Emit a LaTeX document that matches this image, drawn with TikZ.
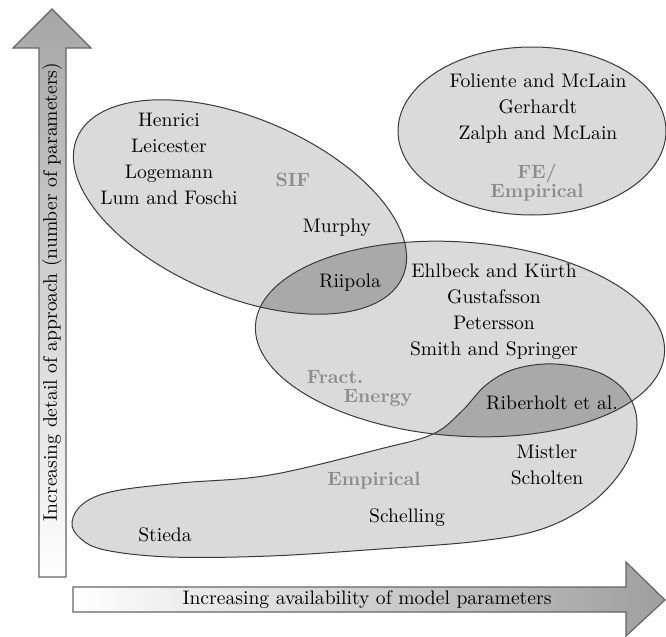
\documentclass[tikz,border=0pt]{standalone}
\usepackage{fontspec}
\usetikzlibrary{positioning}

\definecolor{setgray}{HTML}{DADADA}
\definecolor{overlapgray}{HTML}{A9A9A9}
\definecolor{edgegray}{HTML}{3A3A3A}
\definecolor{methodgray}{HTML}{8C8C8C}

% the four groups of approaches
\newcommand{\sifset}{(240,207) ellipse [x radius=177, y radius=89]}
\newcommand{\feset}{(532,131) ellipse [x radius=134, y radius=84]}
\newcommand{\fractset}{(460,339) ellipse [x radius=205, y radius=97]}
\newcommand{\empset}{plot [smooth cycle, tension=0.6] coordinates {
  (72,522) (84,503) (115,491) (180,483) (270,475) (380,449) (433,434) (462,411)
  (486,385) (515,369) (555,364) (600,373) (628,395) (637,425) (627,462)
  (595,500) (545,528) (480,541) (380,549) (270,556) (170,557) (105,550) (80,538)}}

\tikzset{
  sifturn/.style={rotate around={-23:(240,207)}},
  fractturn/.style={rotate around={-4:(460,339)}},
  setedge/.style={draw=edgegray, line width=0.5pt},
  arrowedge/.style={draw=black!60, line width=0.6pt},
  namestext/.style={font=\fontsize{9.8}{13}\selectfont, align=center, inner sep=0pt},
  methodtext/.style={font=\fontsize{9.6}{9.5}\selectfont\bfseries, text=methodgray, align=center, inner sep=0pt},
  axistext/.style={font=\fontsize{9.8}{13}\selectfont, inner sep=0pt}
}

\begin{document}
\begin{tikzpicture}[x=0.5pt, y=-0.5pt]
  \useasboundingbox (0,0) rectangle (666,637);

  % fill the groups
  \fill[setgray, sifturn] \sifset;
  \fill[setgray] \feset;
  \fill[setgray, fractturn] \fractset;
  \fill[setgray] \empset;

  % darker overlaps
  \begin{scope}
    \clip[fractturn] \fractset;
    \fill[overlapgray, sifturn] \sifset;
    \fill[overlapgray] \empset;
  \end{scope}

  % outlines
  \draw[setedge, sifturn] \sifset;
  \draw[setedge] \feset;
  \draw[setedge, fractturn] \fractset;
  \draw[setedge] \empset;

  % axis arrows
  \shade[arrowedge, top color=black!35, bottom color=white]
    (39,577) -- (39,48) -- (13,48) -- (52,9) -- (91,48) -- (66,48) -- (66,577) -- cycle;
  \shade[arrowedge, left color=white, right color=black!38]
    (73,587) -- (626,587) -- (626,562) -- (665,600) -- (626,636) -- (626,612) -- (73,612) -- cycle;

  % axis labels
  \node[axistext, rotate=90] (detail) at (52,292) {Increasing detail of approach (number of parameters)};
  \node[axistext] (avail) at (367,600) {Increasing availability of model parameters};

  % names and methods
  \node[namestext] (sifnames) at (169,159) {Henrici\\Leicester\\Logemann\\Lum and Foschi};
  \node[methodtext] (sif) at (293,180) {SIF};
  \node[namestext] (murphy) at (337,228) {Murphy};
  \node[namestext] (riipola) at (350,283) {Riipola};
  \node[namestext] (fenames) at (538,109) {Foliente and McLain\\Gerhardt\\Zalph and McLain};
  \node[methodtext] (fe) at (537,183) {FE/\\Empirical};
  \node[namestext] (fractnames) at (494,312) {Ehlbeck and Kürth\\Gustafsson\\Petersson\\Smith and Springer};
  \node[methodtext] (fract) at (335,377) {Fract.};
  \node[methodtext] (energy) at (378,398) {Energy};
  \node[namestext] (riberholt) at (552,403) {Riberholt et al.};
  \node[namestext] (empnames) at (547,465) {Mistler\\Scholten};
  \node[methodtext] (emp) at (374,481) {Empirical};
  \node[namestext] (schelling) at (407,518) {Schelling};
  \node[namestext] (stieda) at (165,535) {Stieda};
\end{tikzpicture}
\end{document}
